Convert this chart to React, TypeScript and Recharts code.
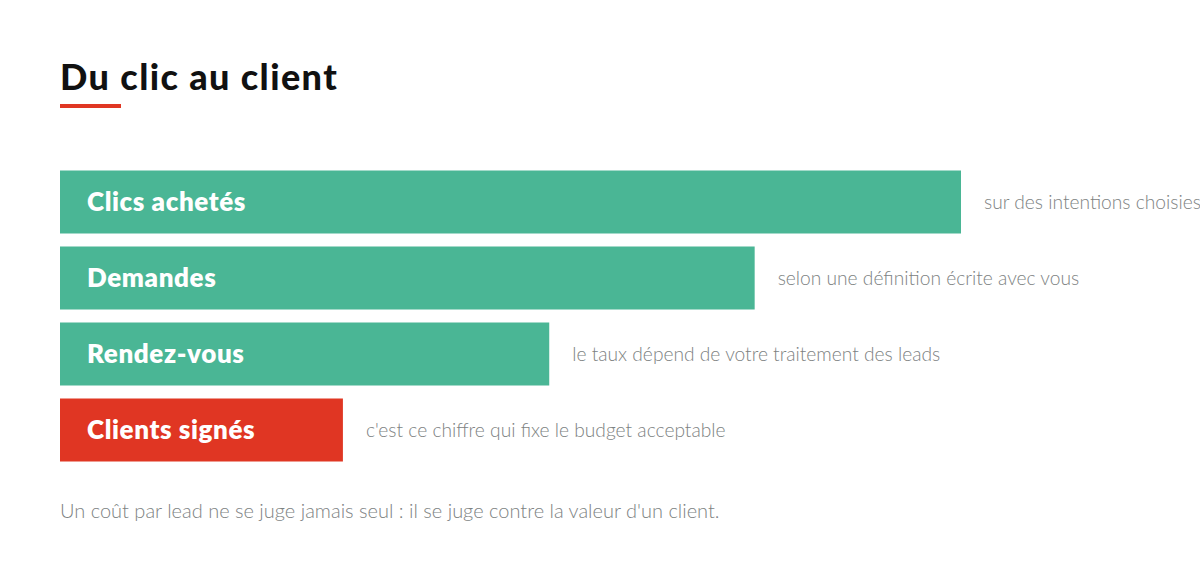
import { Bar, BarChart, Cell, LabelList, XAxis, YAxis } from "recharts";

const stages = ["Clics achetés", "Demandes", "Rendez-vous", "Clients signés"];
const values = [100, 77.1, 54.3, 31.4];
const notes = [
  "sur des intentions choisies",
  "selon une définition écrite avec vous",
  "le taux dépend de votre traitement des leads",
  "c'est ce chiffre qui fixe le budget acceptable",
];
const colors = ["#4AB695", "#4AB695", "#4AB695", "#E03623"];

const title = "Du clic au client";
const footnote = "Un coût par lead ne se juge jamais seul : il se juge contre la valeur d'un client.";

const data = stages.map((stage, i) => ({ stage, value: values[i], note: notes[i] }));

const FONT = "Lato, 'Open Sans', sans-serif";

const NameLabel = (props: any) => {
  const { x, y, height, value } = props;
  return (
    <text
      x={x + 27}
      y={y + height / 2 - 1}
      dominantBaseline="central"
      fill="#FFFFFF"
      fontFamily={FONT}
      fontWeight={800}
      fontSize={26}
      letterSpacing={0.6}
    >
      {value}
    </text>
  );
};

const NoteLabel = (props: any) => {
  const { x, y, width, height, value } = props;
  return (
    <text
      x={x + width + 23}
      y={y + height / 2 - 1}
      dominantBaseline="central"
      fill="#7D8282"
      fontFamily={FONT}
      fontWeight={300}
      fontSize={19.2}
    >
      {value}
    </text>
  );
};

export default function App() {
  return (
    <div
      style={{
        position: "absolute",
        left: 0,
        top: 0,
        width: 1200,
        height: 568,
        background: "#FFFFFF",
        fontFamily: FONT,
        overflow: "hidden",
      }}
    >
      <div
        style={{
          position: "absolute",
          left: 60,
          top: 54,
          fontSize: 36,
          fontWeight: 900,
          color: "#111111",
          lineHeight: "44px",
          letterSpacing: 1.4,
          whiteSpace: "nowrap",
        }}
      >
        {title}
      </div>
      <div
        style={{ position: "absolute", left: 60, top: 104, width: 61, height: 4, background: "#E03623" }}
      />
      <div style={{ position: "absolute", left: 0, top: 0 }}>
        <BarChart
          width={1200}
          height={568}
          data={data}
          layout="vertical"
          margin={{ top: 163.5, right: 239, bottom: 100.5, left: 60 }}
        >
          <XAxis type="number" domain={[0, 100]} hide />
          <YAxis type="category" dataKey="stage" hide />
          <Bar dataKey="value" barSize={63} isAnimationActive={false}>
            {data.map((d, i) => (
              <Cell key={d.stage} fill={colors[i]} />
            ))}
            <LabelList dataKey="stage" content={NameLabel} />
            <LabelList dataKey="note" content={NoteLabel} />
          </Bar>
        </BarChart>
      </div>
      <div
        style={{
          position: "absolute",
          left: 60,
          top: 497,
          fontSize: 20,
          fontWeight: 300,
          color: "#7D8282",
          lineHeight: "26px",
          whiteSpace: "nowrap",
        }}
      >
        {footnote}
      </div>
    </div>
  );
}
